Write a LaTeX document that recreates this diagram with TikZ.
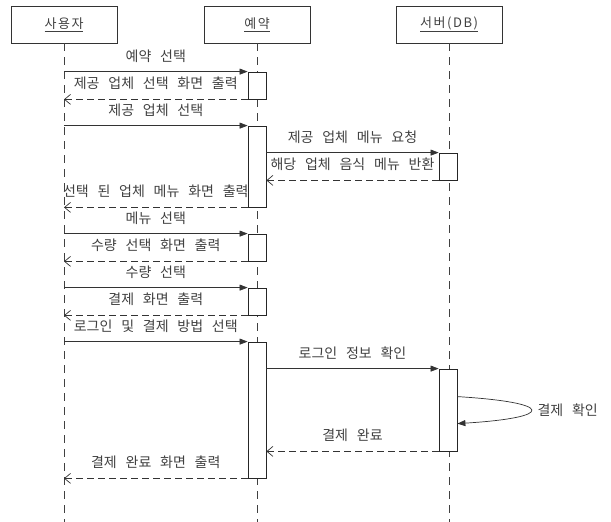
\documentclass[tikz,border=0pt]{standalone}
\usepackage{fontspec}
\setmainfont[WordSpace=2.8]{Noto Sans CJK KR}
\usetikzlibrary{arrows.meta}

\begin{document}
\begin{tikzpicture}[x=1pt, y=-1pt,
  every node/.style={font=\fontsize{14}{16}\selectfont, text=black!75},
  head/.style={draw=black!80, line width=0.8pt, minimum width=106pt, minimum height=37pt,
    font=\fontsize{13}{15}\selectfont\addfontfeatures{LetterSpace=12}},
  life/.style={draw=black!75, line width=0.8pt, dash pattern=on 8pt off 6pt},
  act/.style={draw=black!85, fill=white, line width=0.8pt, minimum width=18pt, inner sep=0pt},
  call/.style={draw=black!80, line width=0.7pt, -{Triangle[length=8pt,width=6pt]}},
  ret/.style={draw=black!80, line width=0.7pt, dash pattern=on 7pt off 4pt, -{Straight Barb[length=6pt,width=10pt]}},
  msg/.style={above=9pt, inner sep=0pt}]
\useasboundingbox (0,0) rectangle (611,522);

% participants
\node[head] (user) at (64,24.5) {\underline{사용자}};
\node[head] (resv) at (257,24.5) {\underline{예약}};
\node[head] (db) at (449,24.5) {\underline{서버(DB)}};
\coordinate (userEnd) at (64,522);
\coordinate (resvEnd) at (257,522);
\coordinate (dbEnd) at (449,522);
\draw[life] (user.south) -- (userEnd);
\draw[life] (resv.south) -- (resvEnd);
\draw[life] (db.south) -- (dbEnd);

% activations
\node[act, minimum height=27pt] (a1) at (257,85.5) {};
\node[act, minimum height=81pt] (a2) at (257,166.5) {};
\node[act, minimum height=27pt] (d1) at (448,166.5) {};
\node[act, minimum height=27pt] (a3) at (257,247.5) {};
\node[act, minimum height=27pt] (a4) at (257,301.5) {};
\node[act, minimum height=136pt] (a5) at (257,410) {};
\node[act, minimum height=82pt] (d2) at (448,410) {};

% messages
\draw[call] (a1.north west -| user) -- node[msg] {예약 선택} (a1.north west);
\draw[ret] (a1.south west) -- node[msg] {제공 업체 선택 화면 출력} (a1.south west -| user);
\draw[call] (a2.north west -| user) -- node[msg] {제공 업체 선택} (a2.north west);
\draw[call] (a2.east |- d1.north) -- node[msg] {제공 업체 메뉴 요청} (d1.north west);
\draw[ret] (d1.south west) -- node[msg] {해당 업체 음식 메뉴 반환} (d1.south west -| a2.east);
\draw[ret] (a2.south west) -- node[msg] {선택 된 업체 메뉴 화면 출력} (a2.south west -| user);
\draw[call] (a3.north west -| user) -- node[msg] {메뉴 선택} (a3.north west);
\draw[ret] (a3.south west) -- node[msg] {수량 선택 화면 출력} (a3.south west -| user);
\draw[call] (a4.north west -| user) -- node[msg] {수량 선택} (a4.north west);
\draw[ret] (a4.south west) -- node[msg] {결제 화면 출력} (a4.south west -| user);
\draw[call] (a5.north west -| user) -- node[msg] {로그인 및 결제 방법 선택} (a5.north west);
\draw[call] (a5.east |- d2.north) -- node[msg] {로그인 정보 확인} (d2.north west);
\draw[call] ([yshift=-28pt]d2.north east) .. controls +(98,6) and +(98,-6) .. ([yshift=-55pt]d2.north east);
\node[anchor=west] (chk) at (534,410) {결제 확인};
\draw[ret] (d2.south west) -- node[msg] {결제 완료} (d2.south west -| a5.east);
\draw[ret] (a5.south west) -- node[msg] {결제 완료 화면 출력} (a5.south west -| user);
\end{tikzpicture}
\end{document}
